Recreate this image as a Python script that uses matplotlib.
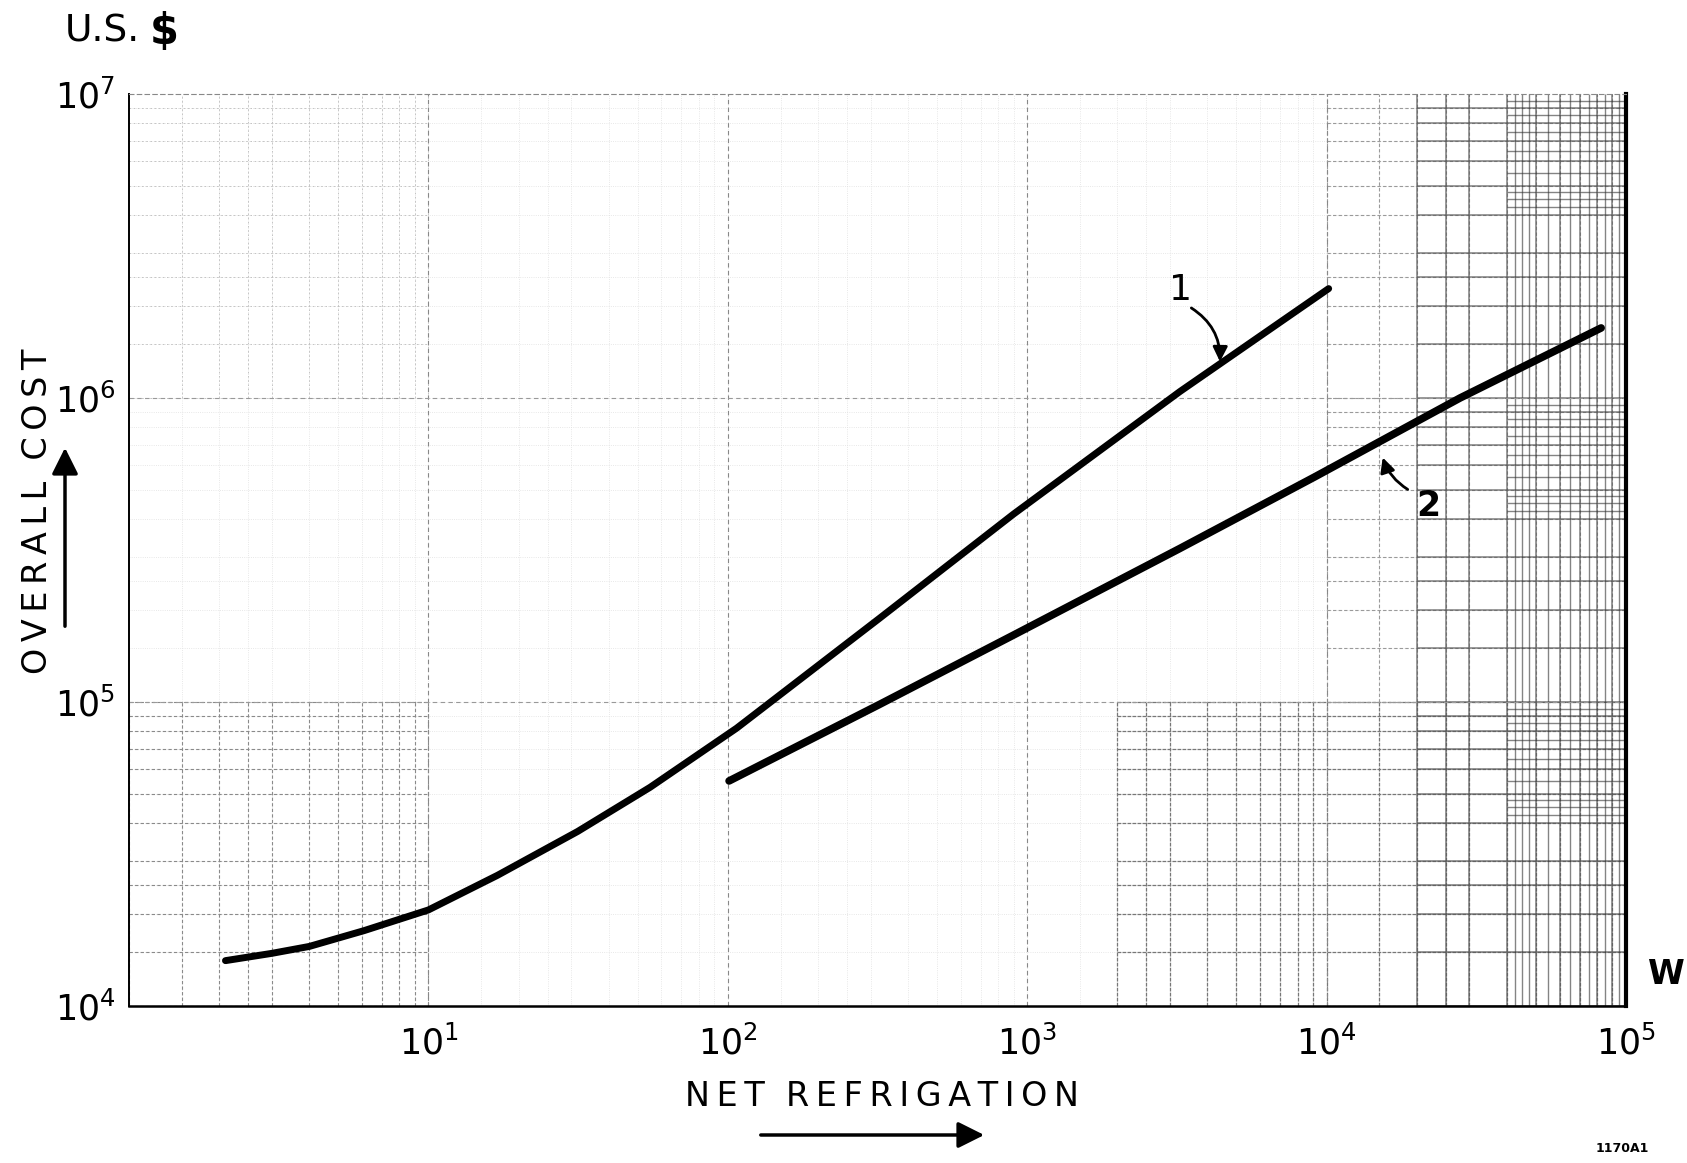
import matplotlib
matplotlib.use("Agg")
import matplotlib.pyplot as plt
import numpy as np

# ---- data (log-log) ----
curve1_x = [2.1, 3, 4, 6.1, 10, 17, 31.5, 55, 107, 320, 900, 3236, 10160]
curve1_y = [1.41e4, 1.49e4, 1.57e4, 1.77e4, 2.07e4, 2.69e4, 3.75e4, 5.24e4, 8.2e4, 1.88e5, 4.15e5, 1.05e6, 2.29e6]

curve2_x = [101, 320, 900, 3236, 9120, 27900, 82600]
curve2_y = [5.5e4, 9.8e4, 1.66e5, 3.2e5, 5.5e5, 1.0e6, 1.7e6]

x_ticks = [1e1, 1e2, 1e3, 1e4, 1e5]
y_ticks = [1e4, 1e5, 1e6, 1e7]

plt.rcParams['font.family'] = ['DejaVu Sans']
plt.rcParams['mathtext.fontset'] = 'dejavusans'

fig = plt.figure(figsize=(16.87, 11.63), dpi=100)
ax = fig.add_axes([129/1687, 1-1006/1163, (1626-129)/1687, (1006-94)/1163])
ax.set_xscale('log')
ax.set_yscale('log')
ax.set_xlim(1, 1e5)
ax.set_ylim(1e4, 1e7)

# --- graph-paper grid ---
def paper(x0, x1, y0, y1, color, lw, ls='-', alpha=1.0,
          subs=(1, 1.5, 2, 2.5, 3, 4, 5, 6, 7, 8, 9)):
    xs = [d*s for d in 10.0**np.arange(0, 5) for s in subs]
    ys = [d*s for d in 10.0**np.arange(4, 7) for s in subs]
    xs = [v for v in xs if x0 <= v <= x1]
    ys = [v for v in ys if y0 <= v <= y1]
    ax.vlines(xs, y0, y1, colors=color, lw=lw, linestyles=ls, alpha=alpha, zorder=0)
    ax.hlines(ys, x0, x1, colors=color, lw=lw, linestyles=ls, alpha=alpha, zorder=0)

# faint background grid everywhere
paper(1, 1e5, 1e4, 1e7, '#e0e0e0', 0.6, ':')
# visible patches of the scanned paper
paper(1, 10, 1e4, 1e5, '#8a8a8a', 0.8, (0, (3, 2)))
paper(1, 10, 1e6, 1e7, '#bdbdbd', 0.6, (0, (2, 3)))
paper(2e3, 1e5, 1e4, 1e5, '#777777', 0.9, (0, (3, 1)))
paper(1e4, 1e5, 1e5, 1e7, '#9a9a9a', 0.8, (0, (3, 2)))
paper(2e4, 1e5, 1e4, 1e7, '#555555', 1.1, '-', 0.75)
paper(4e4, 1e5, 1e4, 1e7, '#333333', 1.0, '-', 0.6,
      subs=(4.25, 4.5, 4.75, 5.5, 6.5, 7.5, 8.5, 9.5))
# decade lines
for d in [10, 100, 1e3, 1e4]:
    ax.axvline(d, color='#888888', lw=0.8, ls=(0, (4, 3)), zorder=0)
for d in [1e5, 1e6]:
    ax.axhline(d, color='#999999', lw=0.8, ls=(0, (4, 3)), zorder=0)

# --- curves ---
ax.plot(curve1_x, curve1_y, color='black', lw=5, solid_capstyle='round',
        solid_joinstyle='round', zorder=3)
ax.plot(curve2_x, curve2_y, color='black', lw=5.5, solid_capstyle='round',
        solid_joinstyle='round', zorder=3)

# --- labels on curves ---
ax.text(3260, 2.26e6, '1', fontsize=26, ha='center', va='center')
ax.annotate('', xy=(4400, 1.29e6), xytext=(3470, 2.0e6),
            arrowprops=dict(arrowstyle='-|>', color='black', lw=2,
                            connectionstyle='arc3,rad=-0.3', mutation_scale=22))
ax.text(21800, 4.4e5, '2', fontsize=25, ha='center', va='center', fontweight='bold')
ax.annotate('', xy=(15300, 6.5e5), xytext=(19000, 4.95e5),
            arrowprops=dict(arrowstyle='-|>', color='black', lw=2,
                            connectionstyle='arc3,rad=-0.2', mutation_scale=22))

# --- axes styling ---
ax.set_xticks(x_ticks)
ax.set_yticks(y_ticks)
ax.minorticks_off()
ax.tick_params(length=0, labelsize=25, pad=14)
ax.tick_params(axis='y', pad=10)
ax.spines['bottom'].set_linewidth(1.8)
ax.spines['left'].set_linewidth(1.4)
ax.spines['top'].set_linewidth(0.8)
ax.spines['top'].set_color('#888888')
ax.spines['top'].set_linestyle((0, (4, 3)))
ax.spines['right'].set_linewidth(3)
ax.grid(False)

ts = '\u2009'
def spaced(s):
    return ' '.join(ts.join(w) for w in s.split(' '))

# --- axis titles and arrows ---
fig.text(65/1687, 1-32/1163, 'U.S.', fontsize=27, ha='left', va='center')
fig.text(150/1687, 1-32/1163, '$', fontsize=30, fontweight='heavy', ha='left', va='center')
fig.text(38/1687, 1-511/1163, spaced('OVERALL  COST'), fontsize=24, rotation=90,
         ha='center', va='center')
fig.patches.append(matplotlib.patches.FancyArrowPatch(
    (65/1687, 1-629/1163), (65/1687, 1-445/1163), transform=fig.transFigure,
    arrowstyle='-|>', mutation_scale=40, lw=2.5, color='black'))
fig.text(882/1687, 1-1097/1163, spaced('NET  REFRIGATION'), fontsize=24,
         ha='center', va='center')
fig.patches.append(matplotlib.patches.FancyArrowPatch(
    (758/1687, 1-1135/1163), (987/1687, 1-1135/1163), transform=fig.transFigure,
    arrowstyle='-|>', mutation_scale=40, lw=2.5, color='black'))
fig.text(1666/1687, 1-974/1163, 'W', fontsize=24, fontweight='bold', ha='center', va='center')
fig.text(1622/1687, 1-1149/1163, '1170A1', fontsize=9, fontweight='bold', ha='center', va='center')

fig.savefig('out.png', dpi=100)
